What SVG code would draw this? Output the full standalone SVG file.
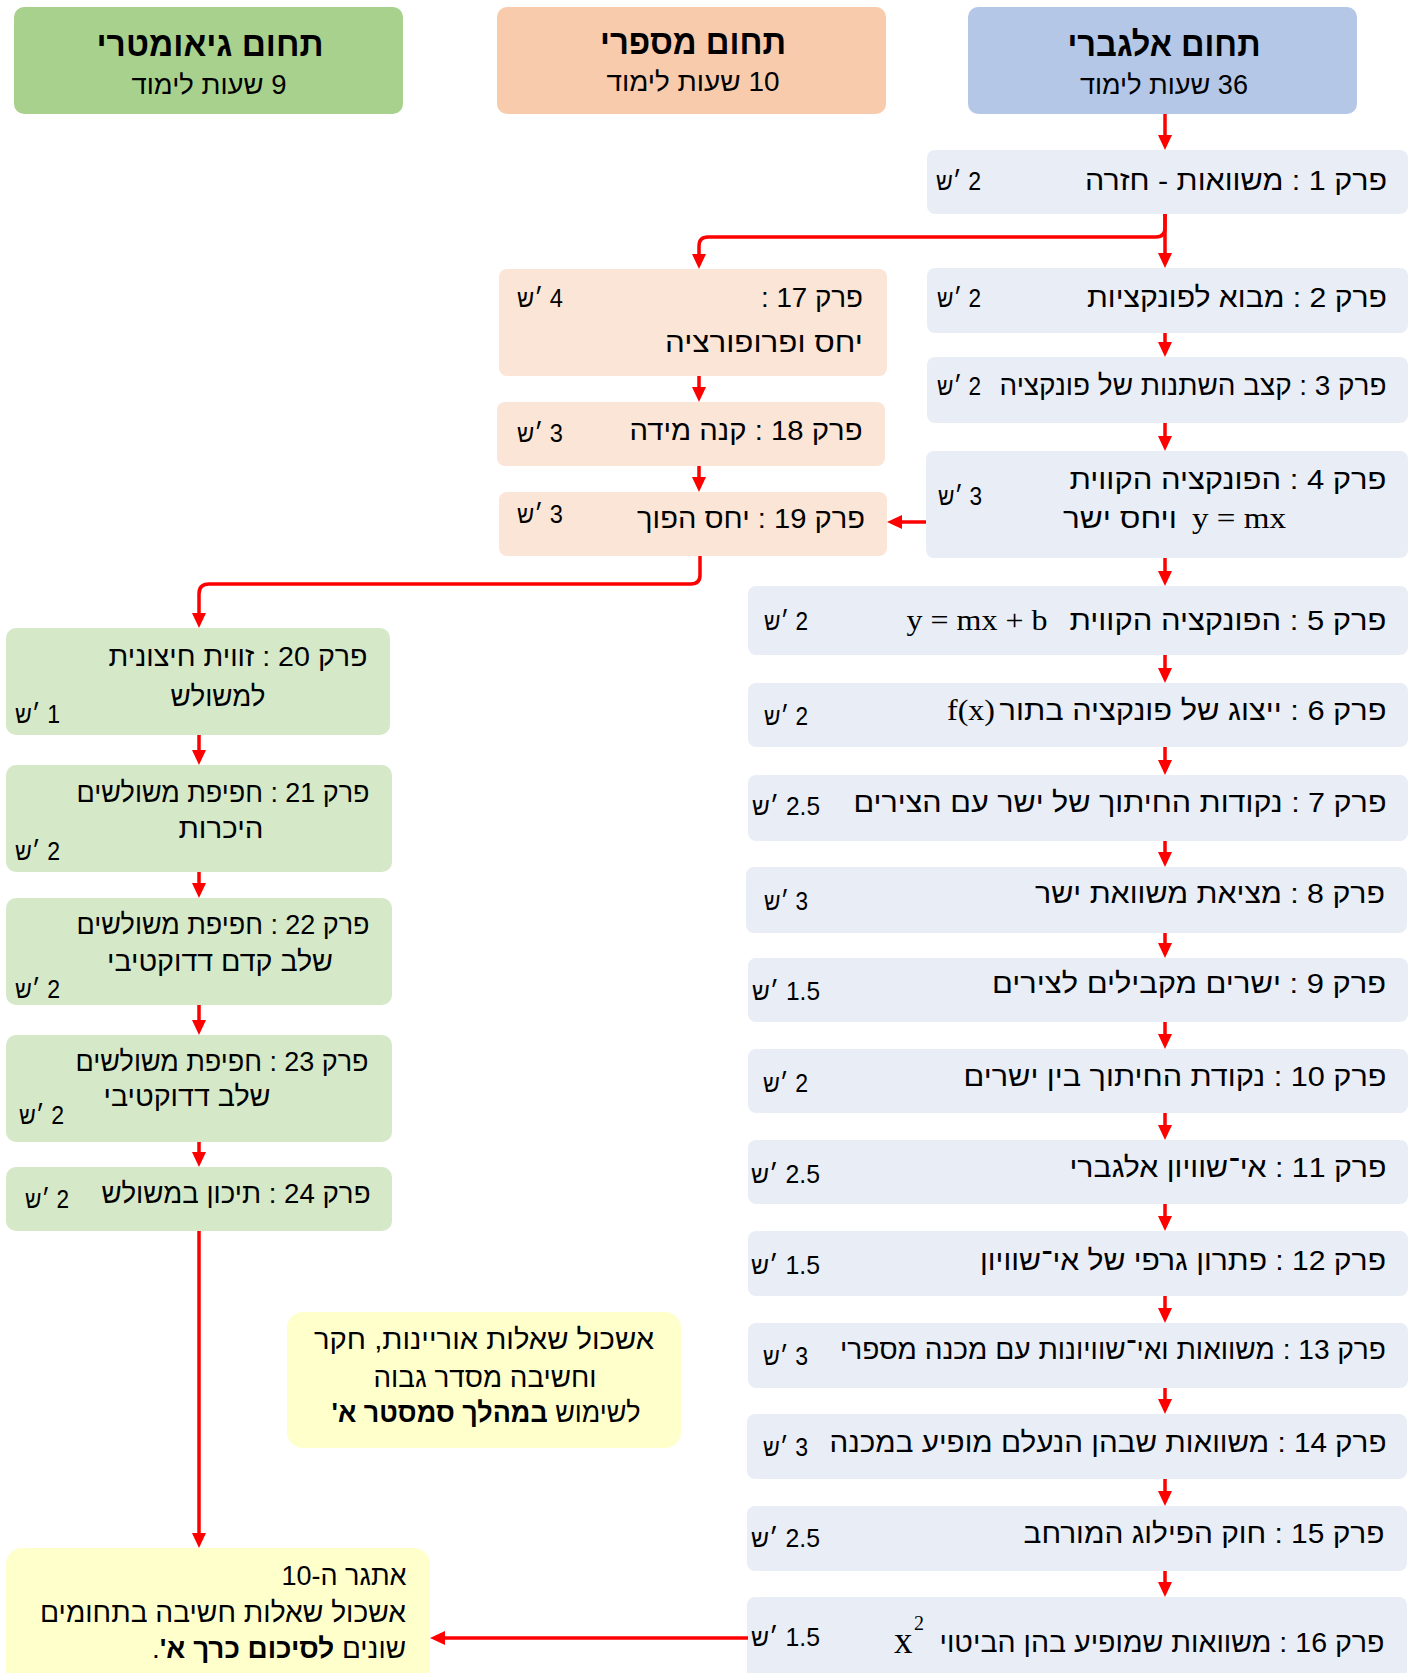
<svg xmlns="http://www.w3.org/2000/svg" width="1418" height="1673" viewBox="0 0 1418 1673">
<defs>
<marker id="arr" viewBox="0 0 15 14" refX="11" refY="7" markerWidth="15" markerHeight="14" markerUnits="userSpaceOnUse" orient="auto">
<path d="M0,0 L15,7 L0,14 Z" fill="#ff0000"/>
</marker>
<style>
text { font-family: "Liberation Sans", "DejaVu Sans", sans-serif; fill: #000; }
.t { font-size: 28px; direction: rtl; text-anchor: middle; }
.hr { font-size: 25px; unicode-bidi: bidi-override; direction: ltr; text-anchor: start; }
.m { font-family: "Liberation Serif", "DejaVu Serif", serif; font-size: 29px; text-anchor: middle; }
.mx { font-family: "Liberation Serif", "DejaVu Serif", serif; font-size: 37px; }
.sup { font-family: "Liberation Serif", "DejaVu Serif", serif; font-size: 20px; }
.tt { font-size: 34px; font-weight: bold; direction: rtl; text-anchor: middle; }
.st { font-size: 27px; direction: rtl; text-anchor: middle; }
.b { font-weight: bold; }
.hb { fill: #b4c7e7; } .ho { fill: #f8cbad; } .hg { fill: #a9d18e; }
.cb { fill: #e9edf6; } .co { fill: #fbe5d6; } .cg { fill: #d5e8c8; } .cy { fill: #ffffcc; }
.c { stroke: #ff0000; stroke-width: 3.5; fill: none; marker-end: url(#arr); }
</style>
</defs>
<rect width="1418" height="1673" fill="#ffffff"/>

<!-- headers -->
<g id="h-geo">
<rect class="hg" x="14" y="7" width="389" height="107" rx="10"/>
<text class="tt" x="210" y="56" textLength="227" lengthAdjust="spacingAndGlyphs">תחום גיאומטרי</text>
<text class="st" x="209" y="94" textLength="155" lengthAdjust="spacingAndGlyphs">9 שעות לימוד</text>
</g>
<g id="h-num">
<rect class="ho" x="497" y="7" width="389" height="107" rx="10"/>
<text class="tt" x="693" y="54" textLength="186" lengthAdjust="spacingAndGlyphs">תחום מספרי</text>
<text class="st" x="693" y="91" textLength="173" lengthAdjust="spacingAndGlyphs">10 שעות לימוד</text>
</g>
<g id="h-alg">
<rect class="hb" x="968" y="7" width="389" height="107" rx="10"/>
<text class="tt" x="1164" y="56" textLength="193" lengthAdjust="spacingAndGlyphs">תחום אלגברי</text>
<text class="st" x="1164" y="94" textLength="168" lengthAdjust="spacingAndGlyphs">36 שעות לימוד</text>
</g>

<!-- algebra chapters -->
<g id="ch1">
<rect class="cb" x="927" y="150" width="481" height="64" rx="8"/>
<text class="t" x="1236" y="190" textLength="302" lengthAdjust="spacingAndGlyphs">פרק 1 : משוואות - חזרה</text>
<text class="hr" x="936" y="190" textLength="45" lengthAdjust="spacingAndGlyphs">ש׳ 2</text>
</g>
<g id="ch2">
<rect class="cb" x="927" y="268" width="481" height="65" rx="8"/>
<text class="t" x="1237" y="307" textLength="300" lengthAdjust="spacingAndGlyphs">פרק 2 : מבוא לפונקציות</text>
<text class="hr" x="937" y="307" textLength="44" lengthAdjust="spacingAndGlyphs">ש׳ 2</text>
</g>
<g id="ch3">
<rect class="cb" x="927" y="357" width="481" height="66" rx="8"/>
<text class="t" x="1193" y="395" textLength="387" lengthAdjust="spacingAndGlyphs">פרק 3 : קצב השתנות של פונקציה</text>
<text class="hr" x="937" y="395" textLength="44" lengthAdjust="spacingAndGlyphs">ש׳ 2</text>
</g>
<g id="ch4">
<rect class="cb" x="926" y="451" width="482" height="107" rx="8"/>
<text class="t" x="1228" y="489" textLength="317" lengthAdjust="spacingAndGlyphs">פרק 4 : הפונקציה הקווית</text>
<text class="t" x="1120" y="528" textLength="114" lengthAdjust="spacingAndGlyphs">ויחס ישר</text>
<text class="m" x="1239" y="528" textLength="94" lengthAdjust="spacingAndGlyphs">y = mx</text>
<text class="hr" x="938" y="505" textLength="44" lengthAdjust="spacingAndGlyphs">ש׳ 3</text>
</g>
<g id="ch5">
<rect class="cb" x="748" y="586" width="660" height="69" rx="8"/>
<text class="t" x="1228" y="630" textLength="317" lengthAdjust="spacingAndGlyphs">פרק 5 : הפונקציה הקווית</text>
<text class="m" x="977" y="630" textLength="141" lengthAdjust="spacingAndGlyphs">y = mx + b</text>
<text class="hr" x="764" y="630" textLength="44" lengthAdjust="spacingAndGlyphs">ש׳ 2</text>
</g>
<g id="ch6">
<rect class="cb" x="748" y="683" width="660" height="64" rx="8"/>
<text class="t" x="1193" y="720" textLength="387" lengthAdjust="spacingAndGlyphs">פרק 6 : ייצוג של פונקציה בתור</text>
<text class="m" x="971" y="720" textLength="48" lengthAdjust="spacingAndGlyphs">f(x)</text>
<text class="hr" x="764" y="725" textLength="44" lengthAdjust="spacingAndGlyphs">ש׳ 2</text>
</g>
<g id="ch7">
<rect class="cb" x="748" y="775" width="660" height="66" rx="8"/>
<text class="t" x="1120" y="812" textLength="533" lengthAdjust="spacingAndGlyphs">פרק 7 : נקודות החיתוך של ישר עם הצירים</text>
<text class="hr" x="752" y="815" textLength="68" lengthAdjust="spacingAndGlyphs">ש׳ 2.5</text>
</g>
<g id="ch8">
<rect class="cb" x="746" y="867" width="661" height="66" rx="8"/>
<text class="t" x="1210" y="903" textLength="350" lengthAdjust="spacingAndGlyphs">פרק 8 : מציאת משוואת ישר</text>
<text class="hr" x="764" y="910" textLength="44" lengthAdjust="spacingAndGlyphs">ש׳ 3</text>
</g>
<g id="ch9">
<rect class="cb" x="748" y="958" width="660" height="64" rx="8"/>
<text class="t" x="1189" y="993" textLength="394" lengthAdjust="spacingAndGlyphs">פרק 9 : ישרים מקבילים לצירים</text>
<text class="hr" x="752" y="1000" textLength="68" lengthAdjust="spacingAndGlyphs">ש׳ 1.5</text>
</g>
<g id="ch10">
<rect class="cb" x="748" y="1049" width="660" height="64" rx="8"/>
<text class="t" x="1175" y="1086" textLength="423" lengthAdjust="spacingAndGlyphs">פרק 10 : נקודת החיתוך בין ישרים</text>
<text class="hr" x="763" y="1092" textLength="45" lengthAdjust="spacingAndGlyphs">ש׳ 2</text>
</g>
<g id="ch11">
<rect class="cb" x="748" y="1140" width="660" height="64" rx="8"/>
<text class="t" x="1228" y="1177" textLength="317" lengthAdjust="spacingAndGlyphs">פרק 11 : אי־שוויון אלגברי</text>
<text class="hr" x="751" y="1183" textLength="69" lengthAdjust="spacingAndGlyphs">ש׳ 2.5</text>
</g>
<g id="ch12">
<rect class="cb" x="748" y="1231" width="660" height="65" rx="8"/>
<text class="t" x="1183" y="1270" textLength="406" lengthAdjust="spacingAndGlyphs">פרק 12 : פתרון גרפי של אי־שוויון</text>
<text class="hr" x="751" y="1274" textLength="69" lengthAdjust="spacingAndGlyphs">ש׳ 1.5</text>
</g>
<g id="ch13">
<rect class="cb" x="748" y="1323" width="660" height="65" rx="8"/>
<text class="t" x="1113" y="1359" textLength="546" lengthAdjust="spacingAndGlyphs">פרק 13 : משוואות ואי־שוויונות עם מכנה מספרי</text>
<text class="hr" x="763" y="1365" textLength="45" lengthAdjust="spacingAndGlyphs">ש׳ 3</text>
</g>
<g id="ch14">
<rect class="cb" x="747" y="1414" width="660" height="65" rx="8"/>
<text class="t" x="1108" y="1452" textLength="557" lengthAdjust="spacingAndGlyphs">פרק 14 : משוואות שבהן הנעלם מופיע במכנה</text>
<text class="hr" x="763" y="1456" textLength="45" lengthAdjust="spacingAndGlyphs">ש׳ 3</text>
</g>
<g id="ch15">
<rect class="cb" x="747" y="1506" width="660" height="65" rx="8"/>
<text class="t" x="1204" y="1543" textLength="361" lengthAdjust="spacingAndGlyphs">פרק 15 : חוק הפילוג המורחב</text>
<text class="hr" x="751" y="1547" textLength="69" lengthAdjust="spacingAndGlyphs">ש׳ 2.5</text>
</g>
<g id="ch16">
<rect class="cb" x="747" y="1597" width="660" height="95" rx="8"/>
<text class="t" x="1162" y="1652" textLength="445" lengthAdjust="spacingAndGlyphs">פרק 16 : משוואות שמופיע בהן הביטוי</text>
<text class="mx" x="894" y="1653">x</text>
<text class="sup" x="914" y="1630">2</text>
<text class="hr" x="751" y="1646" textLength="69" lengthAdjust="spacingAndGlyphs">ש׳ 1.5</text>
</g>

<!-- numeric chapters -->
<g id="ch17">
<rect class="co" x="499" y="269" width="388" height="107" rx="8"/>
<text class="t" x="812" y="307" textLength="102" lengthAdjust="spacingAndGlyphs">פרק 17 :</text>
<text class="t" x="764" y="352" textLength="198" lengthAdjust="spacingAndGlyphs">יחס ופרופורציה</text>
<text class="hr" x="517" y="307" textLength="46" lengthAdjust="spacingAndGlyphs">ש׳ 4</text>
</g>
<g id="ch18">
<rect class="co" x="497" y="402" width="388" height="64" rx="8"/>
<text class="t" x="746" y="440" textLength="233" lengthAdjust="spacingAndGlyphs">פרק 18 : קנה מידה</text>
<text class="hr" x="517" y="442" textLength="46" lengthAdjust="spacingAndGlyphs">ש׳ 3</text>
</g>
<g id="ch19">
<rect class="co" x="499" y="492" width="388" height="64" rx="8"/>
<text class="t" x="751" y="528" textLength="228" lengthAdjust="spacingAndGlyphs">פרק 19 : יחס הפוך</text>
<text class="hr" x="517" y="523" textLength="46" lengthAdjust="spacingAndGlyphs">ש׳ 3</text>
</g>

<!-- geometric chapters -->
<g id="ch20">
<rect class="cg" x="6" y="628" width="384" height="107" rx="10"/>
<text class="t" x="238" y="666" textLength="259" lengthAdjust="spacingAndGlyphs">פרק 20 : זווית חיצונית</text>
<text class="t" x="218" y="706" textLength="95" lengthAdjust="spacingAndGlyphs">למשולש</text>
<text class="hr" x="15" y="723" textLength="45" lengthAdjust="spacingAndGlyphs">ש׳ 1</text>
</g>
<g id="ch21">
<rect class="cg" x="6" y="765" width="386" height="107" rx="10"/>
<text class="t" x="223" y="802" textLength="293" lengthAdjust="spacingAndGlyphs">פרק 21 : חפיפת משולשים</text>
<text class="t" x="221" y="838" textLength="85" lengthAdjust="spacingAndGlyphs">היכרות</text>
<text class="hr" x="15" y="860" textLength="45" lengthAdjust="spacingAndGlyphs">ש׳ 2</text>
</g>
<g id="ch22">
<rect class="cg" x="6" y="898" width="386" height="107" rx="10"/>
<text class="t" x="223" y="934" textLength="293" lengthAdjust="spacingAndGlyphs">פרק 22 : חפיפת משולשים</text>
<text class="t" x="220" y="971" textLength="226" lengthAdjust="spacingAndGlyphs">שלב קדם דדוקטיבי</text>
<text class="hr" x="15" y="998" textLength="45" lengthAdjust="spacingAndGlyphs">ש׳ 2</text>
</g>
<g id="ch23">
<rect class="cg" x="6" y="1035" width="386" height="107" rx="10"/>
<text class="t" x="222" y="1071" textLength="293" lengthAdjust="spacingAndGlyphs">פרק 23 : חפיפת משולשים</text>
<text class="t" x="187" y="1106" textLength="167" lengthAdjust="spacingAndGlyphs">שלב דדוקטיבי</text>
<text class="hr" x="19" y="1124" textLength="45" lengthAdjust="spacingAndGlyphs">ש׳ 2</text>
</g>
<g id="ch24">
<rect class="cg" x="6" y="1167" width="386" height="64" rx="10"/>
<text class="t" x="236" y="1203" textLength="269" lengthAdjust="spacingAndGlyphs">פרק 24 : תיכון במשולש</text>
<text class="hr" x="25" y="1208" textLength="44" lengthAdjust="spacingAndGlyphs">ש׳ 2</text>
</g>

<!-- notes -->
<g id="note-orientation">
<rect class="cy" x="287" y="1312" width="394" height="136" rx="16"/>
<text class="t" x="484" y="1349" textLength="340" lengthAdjust="spacingAndGlyphs">אשכול שאלות אוריינות, חקר</text>
<text class="t" x="485" y="1387" textLength="223" lengthAdjust="spacingAndGlyphs">וחשיבה מסדר גבוה</text>
<text class="t" x="486" y="1422" textLength="309" lengthAdjust="spacingAndGlyphs">לשימוש <tspan class="b">במהלך סמסטר א'</tspan></text>
</g>
<g id="challenge">
<rect class="cy" x="6" y="1548" width="424" height="150" rx="16"/>
<text class="t" x="344" y="1585" textLength="125" lengthAdjust="spacingAndGlyphs">אתגר ה-10</text>
<text class="t" x="223" y="1622" textLength="366" lengthAdjust="spacingAndGlyphs">אשכול שאלות חשיבה בתחומים</text>
<text class="t" x="279" y="1658" textLength="254" lengthAdjust="spacingAndGlyphs">שונים <tspan class="b">לסיכום כרך א'</tspan>.</text>
</g>

<!-- connectors -->
<g id="connectors">
<path class="c" d="M1165 114 V146"/>
<path class="c" d="M1165 214 V264"/>
<path class="c" d="M1165 214 V228 Q1165 237 1156 237 H708 Q699 237 699 246 V265"/>
<path class="c" d="M1165 333 V353"/>
<path class="c" d="M1165 423 V447"/>
<path class="c" d="M1165 558 V582"/>
<path class="c" d="M1165 655 V679"/>
<path class="c" d="M1165 747 V771"/>
<path class="c" d="M1165 841 V863"/>
<path class="c" d="M1165 933 V954"/>
<path class="c" d="M1165 1022 V1045"/>
<path class="c" d="M1165 1113 V1136"/>
<path class="c" d="M1165 1204 V1227"/>
<path class="c" d="M1165 1296 V1319"/>
<path class="c" d="M1165 1388 V1410"/>
<path class="c" d="M1165 1479 V1502"/>
<path class="c" d="M1165 1571 V1593"/>
<path class="c" d="M926 522 H891"/>
<path class="c" d="M748 1638 H434"/>
<path class="c" d="M699 376 V398"/>
<path class="c" d="M699 466 V488"/>
<path class="c" d="M700 556 V575 Q700 584 691 584 H209 Q199 584 199 594 V624"/>
<path class="c" d="M199 735 V761"/>
<path class="c" d="M199 872 V894"/>
<path class="c" d="M199 1005 V1031"/>
<path class="c" d="M199 1142 V1163"/>
<path class="c" d="M199 1231 V1544"/>
</g>
</svg>
